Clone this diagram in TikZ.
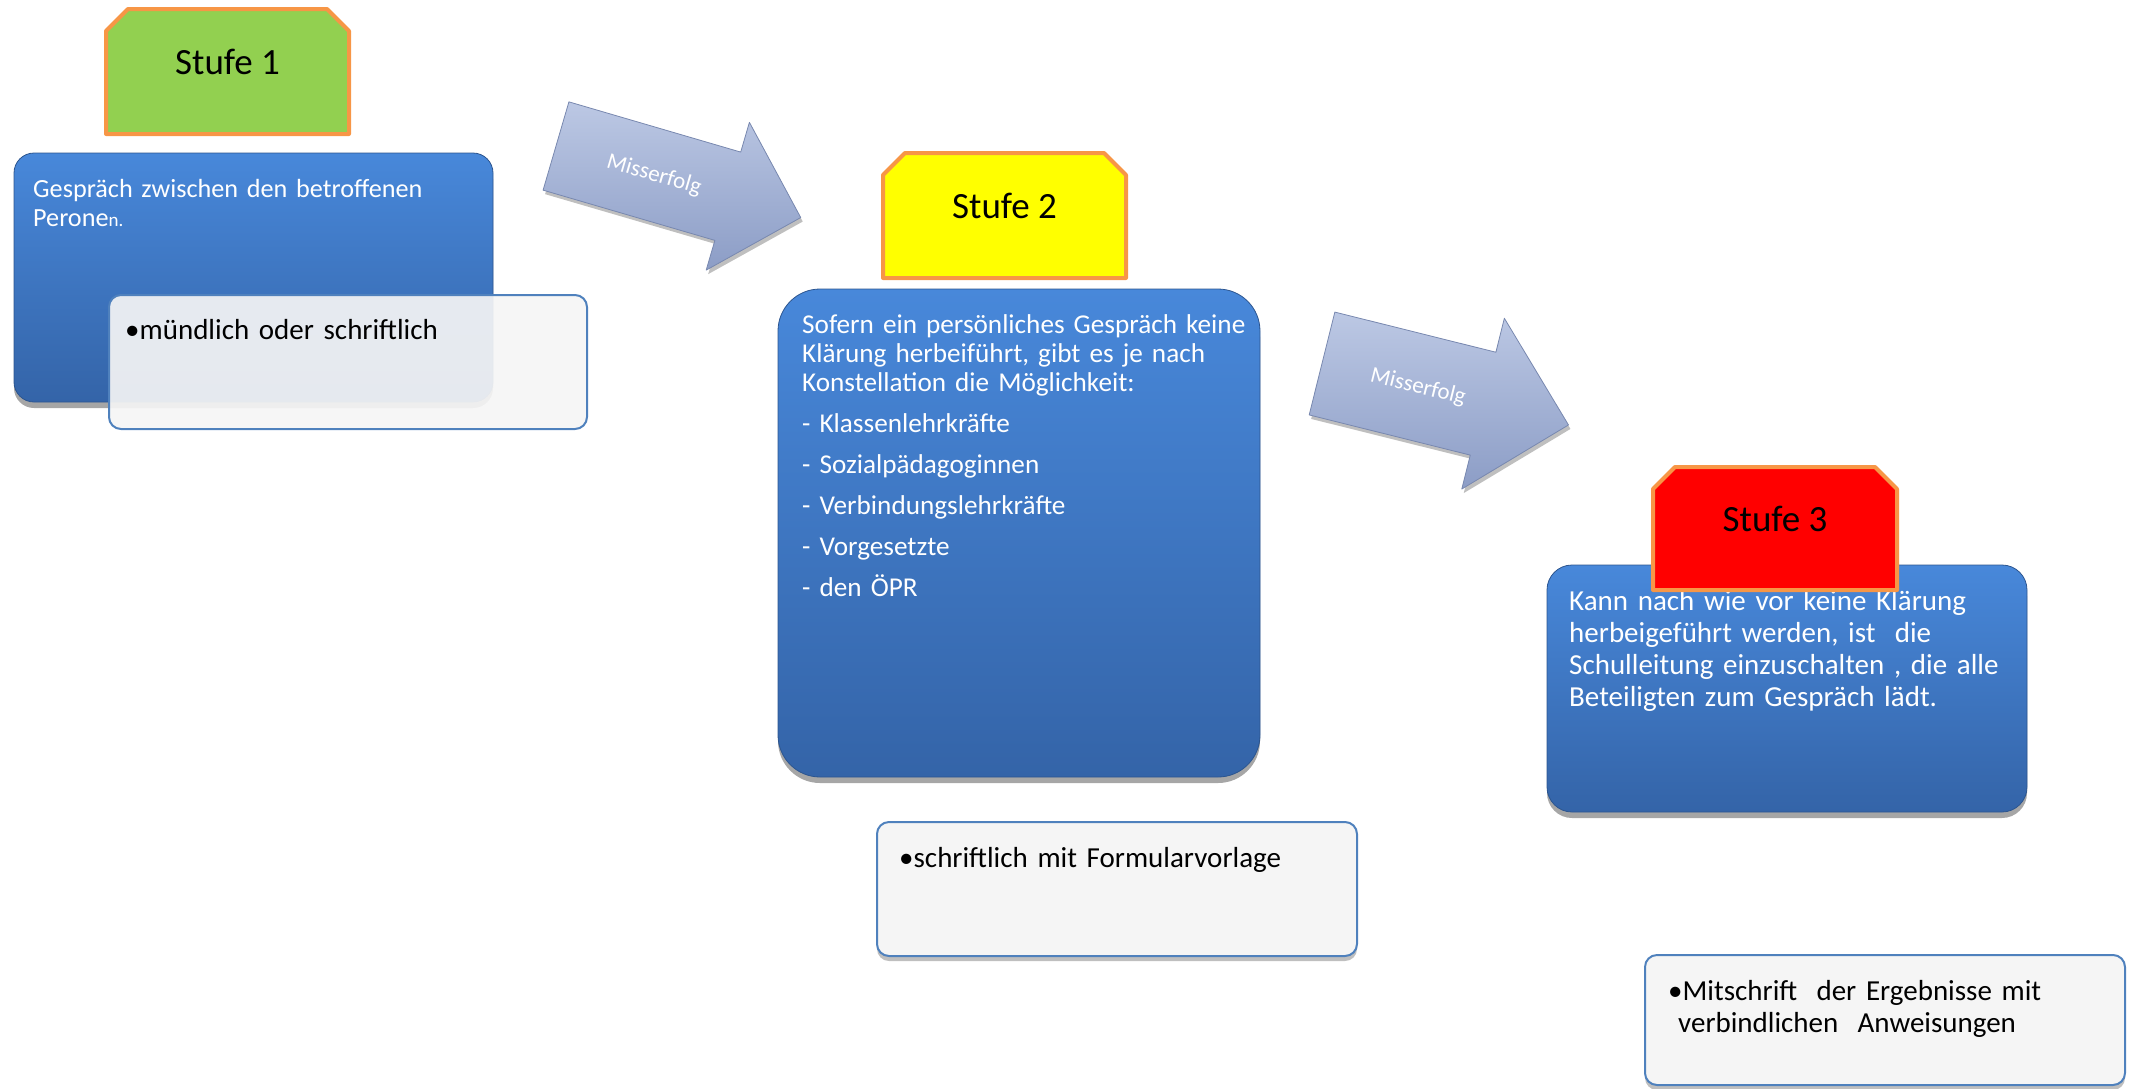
\documentclass[tikz,border=0pt]{standalone}
\usepackage{fontspec}
\setmainfont{Carlito}
\usetikzlibrary{shadows}
\definecolor{stufeorange}{RGB}{247,150,70}
\definecolor{stgreen}{RGB}{146,208,80}
\definecolor{styellow}{RGB}{255,255,0}
\definecolor{stred}{RGB}{255,0,0}
\definecolor{bluetop}{RGB}{72,136,218}
\definecolor{bluebot}{RGB}{52,100,168}
\definecolor{noteborder}{RGB}{79,129,189}
\definecolor{notefill}{RGB}{245,245,245}
\definecolor{arrtop}{RGB}{188,200,228}
\definecolor{arrbot}{RGB}{140,157,198}
\definecolor{arredge}{RGB}{120,136,175}
\begin{document}
\begin{tikzpicture}[x=1pt,y=-1pt,
  shapebox/.style={inner sep=0pt, outer sep=0pt, anchor=north west},
  bluebox/.style={shapebox, rounded corners=#1, top color=bluetop, bottom color=bluebot,
    draw=bluebot!85!black, line width=0.8pt,
    drop shadow={shadow xshift=0pt, shadow yshift=-6pt, opacity=0.35, fill=black}},
  noteplain/.style={shapebox, rounded corners=12pt, fill=notefill, draw=noteborder, line width=2pt},
  notebox/.style={noteplain,
    drop shadow={shadow xshift=0pt, shadow yshift=-5pt, opacity=0.25, fill=black}},
  stufeframe/.style={draw=stufeorange, line width=4pt, line join=round},
  stufetext/.style={inner sep=0pt, anchor=base, font=\fontsize{37}{40}\selectfont},
  bodytext/.style={inner sep=0pt, anchor=base west, align=left, text width=#1},
  arrowshape/.style={top color=arrtop, bottom color=arrbot, draw=arredge, line width=0.8pt, line join=round,
    drop shadow={shadow xshift=2pt, shadow yshift=-4pt, opacity=0.25, fill=black}},
  misstext/.style={inner sep=0pt, text=white, font=\fontsize{23}{25}\selectfont}
]
\useasboundingbox (0,0) rectangle (2129,1088);

% ---------- Stufe 1 ----------
\node[shapebox, minimum width=243pt, minimum height=125pt] (s1) at (106,9) {};
\draw[stufeframe, fill=stgreen] (s1.south west) -- ([yshift=-22pt]s1.north west) -- ([xshift=22pt]s1.north west)
  -- ([xshift=-22pt]s1.north east) -- ([yshift=-22pt]s1.north east) -- (s1.south east) -- cycle;
\node[stufetext] (s1t) at (227.5,74) {Stufe 1};

\node[bluebox=20pt, minimum width=479pt, minimum height=249pt] (b1) at (14,153) {};
\node[bodytext=460pt, text=white, font=\fontsize{26.2}{29.5}\selectfont] (b1t) at (33,197)
  {Gespräch zwischen den betroffenen\\Perone{\fontsize{19}{19}\selectfont n.}};

\node[noteplain, fill opacity=0.92, minimum width=478pt, minimum height=134pt] (w1) at (109,295) {};
\node[bodytext=460pt, font=\fontsize{29}{32}\selectfont] (w1t) at (125,339) {•mündlich oder schriftlich};

% ---------- Arrow 1 ----------
\begin{scope}[shift={(556,146)}, rotate=-16.3]
  \draw[arrowshape] (0,-46) -- (179,-46) -- (179,-77) -- (255,0) -- (179,77) -- (179,46) -- (0,46) -- cycle;
\end{scope}
\node[misstext, rotate=-16.3] (m1) at (654,175) {Misserfolg};

% ---------- Stufe 2 ----------
\node[shapebox, minimum width=243pt, minimum height=125pt] (s2) at (883,153) {};
\draw[stufeframe, fill=styellow] (s2.south west) -- ([yshift=-22pt]s2.north west) -- ([xshift=22pt]s2.north west)
  -- ([xshift=-22pt]s2.north east) -- ([yshift=-22pt]s2.north east) -- (s2.south east) -- cycle;
\node[stufetext] (s2t) at (1004.5,218) {Stufe 2};

\node[bluebox=42pt, minimum width=482pt, minimum height=488pt] (b2) at (778,289) {};
\node[bodytext=470pt, text=white, font=\fontsize{27.2}{29}\selectfont] (b2t) at (802,333)
  {Sofern ein persönliches Gespräch keine\\Klärung herbeiführt, gibt es je nach\\Konstellation die Möglichkeit:\\[12pt]%
   - Klassenlehrkräfte\\[12pt]- Sozialpädagoginnen\\[12pt]- Verbindungslehrkräfte\\[12pt]- Vorgesetzte\\[12pt]- den ÖPR};

\node[notebox, minimum width=480pt, minimum height=134pt] (w2) at (877,822) {};
\node[bodytext=460pt, font=\fontsize{29}{32}\selectfont] (w2t) at (899,867) {•schriftlich mit Formularvorlage};

% ---------- Arrow 2 ----------
\begin{scope}[shift={(1322,363.5)}, rotate=-14]
  \draw[arrowshape] (0,-53) -- (166,-53) -- (166,-88) -- (254,0) -- (166,88) -- (166,53) -- (0,53) -- cycle;
\end{scope}
\node[misstext, rotate=-14] (m2) at (1418,387) {Misserfolg};

% ---------- Stufe 3 ----------
\node[bluebox=25pt, minimum width=480pt, minimum height=247pt] (b3) at (1547,565) {};
\node[bodytext=470pt, text=white, font=\fontsize{29}{32.3}\selectfont] (b3t) at (1569,610)
  {Kann nach wie vor keine Klärung\\herbeigeführt werden, ist\ \ die\\Schulleitung einzuschalten , die alle\\Beteiligten zum Gespräch lädt.};

\node[shapebox, minimum width=244pt, minimum height=123pt] (s3) at (1653,467) {};
\draw[stufeframe, fill=stred] (s3.south west) -- ([yshift=-22pt]s3.north west) -- ([xshift=22pt]s3.north west)
  -- ([xshift=-22pt]s3.north east) -- ([yshift=-22pt]s3.north east) -- (s3.south east) -- cycle;
\node[stufetext] (s3t) at (1775,531) {Stufe 3};

\node[notebox, minimum width=480pt, minimum height=130pt] (w3) at (1645,955) {};
\node[bodytext=460pt, font=\fontsize{29}{32}\selectfont] (w3t) at (1668,1000)
  {•Mitschrift\ \ der Ergebnisse mit\\\hspace*{10pt}verbindlichen\ \ Anweisungen};
\end{tikzpicture}
\end{document}
